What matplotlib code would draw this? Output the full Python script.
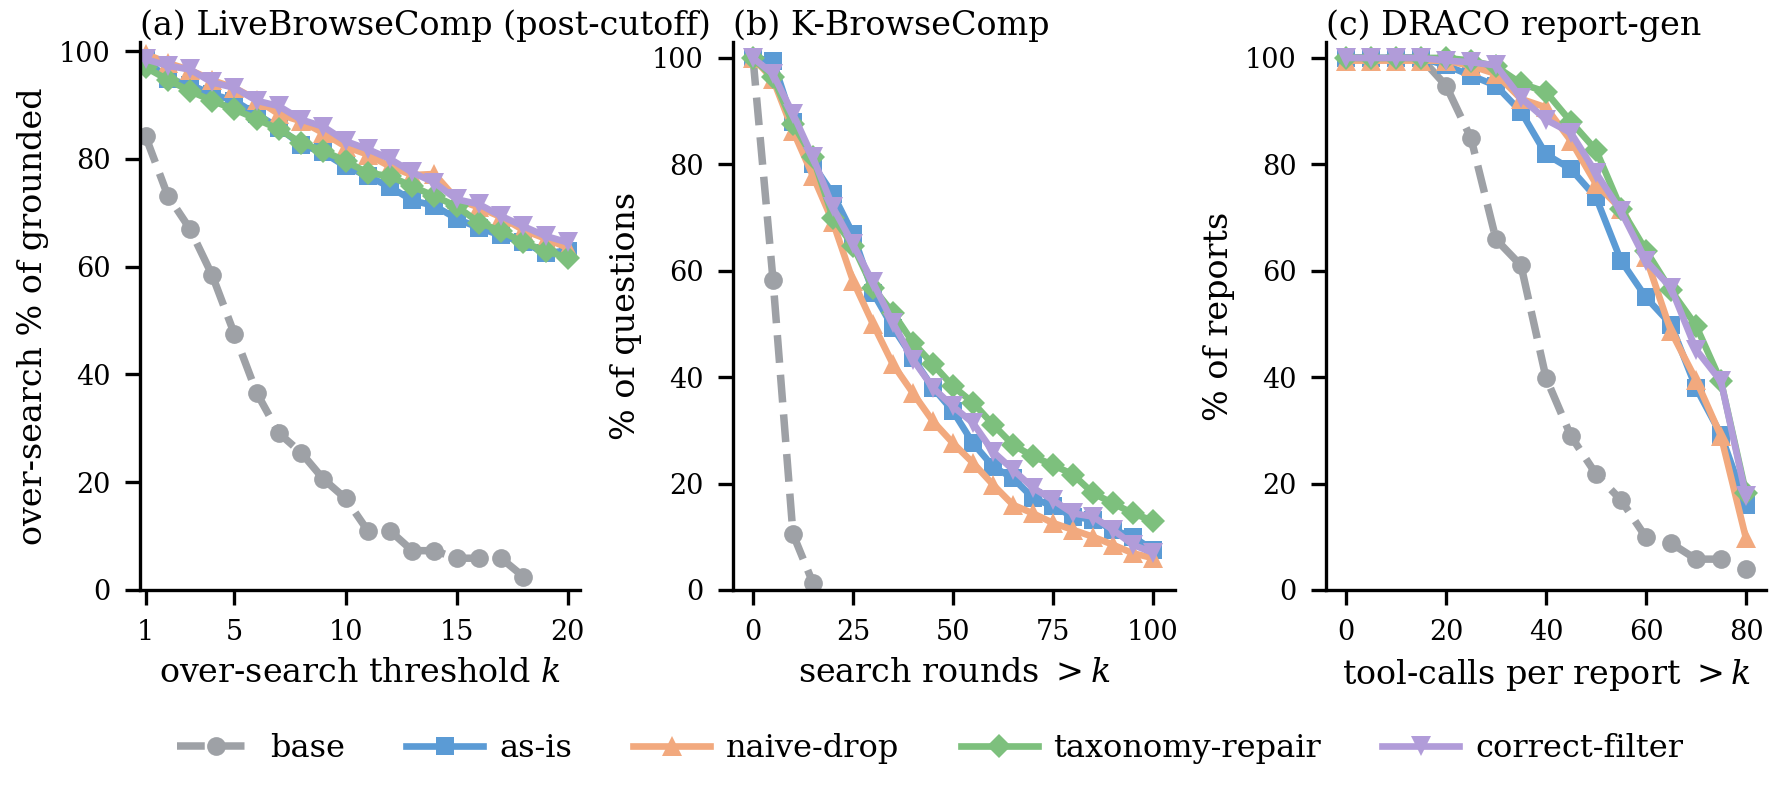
"""
plot.py -- survival-style curves for the over-search comparison, three benchmarks.
"""

import matplotlib

matplotlib.use("Agg")
import matplotlib.pyplot as plt

# Figure size in pixels, drawn at 300 dpi (paper figure)
FIG_W, FIG_H = 1772, 786
PLOT_DPI = 300

plt.rcParams["font.family"] = ["DejaVu Serif"]
plt.rcParams["mathtext.fontset"] = "dejavuserif"
plt.rcParams["font.size"] = 8

METHODS = ["base", "as-is", "naive-drop", "taxonomy-repair", "correct-filter"]

# (a) LiveBrowseComp, threshold k = 1..20 (base stops at 18)
k_a = list(range(1, 21))
base_a = [84.2, 73.2, 67.0, 58.4, 47.5, 36.6, 29.1, 25.5, 20.6, 17.0,
          11.0, 11.0, 7.3, 7.3, 5.9, 5.9, 5.9, 2.5]
asis_a = [98.5, 94.8, 93.8, 92.0, 90.8, 88.3, 85.8, 82.6, 81.2, 78.6,
          76.8, 74.8, 72.3, 71.3, 68.9, 67.2, 65.8, 64.5, 62.5, 63.0]
naive_a = [99.5, 97.8, 96.5, 94.6, 93.2, 91.0, 88.3, 87.0, 84.8, 82.3,
           80.8, 78.6, 77.0, 77.2, 72.5, 71.0, 69.2, 66.8, 65.2, 63.5]
taxo_a = [97.0, 94.7, 92.6, 90.8, 89.2, 87.4, 85.5, 83.0, 81.5, 79.6,
          77.4, 76.8, 74.9, 73.1, 71.2, 68.2, 66.6, 64.5, 62.9, 61.7]
corr_a = [98.5, 97.3, 96.6, 94.2, 93.2, 90.8, 89.8, 87.3, 86.0, 83.3,
          81.8, 80.0, 77.5, 75.6, 72.5, 71.6, 69.4, 67.5, 65.7, 64.5]

# (b) K-BrowseComp, search rounds 0..100 step 5 (base stops at 15)
k_b = list(range(0, 101, 5))
base_b = [100.0, 58.3, 10.5, 1.3]
asis_b = [100.0, 99.5, 87.9, 80.0, 74.4, 66.9, 55.9, 49.3, 43.6, 38.0, 33.6,
          27.6, 23.2, 21.0, 17.3, 15.7, 13.8, 13.2, 11.3, 10.0, 7.5]
naive_b = [100.0, 96.0, 86.3, 77.8, 69.1, 58.1, 50.0, 42.4, 37.0, 31.7, 27.6,
           23.9, 19.8, 16.0, 14.4, 12.6, 11.3, 10.0, 8.5, 6.9, 6.0]
taxo_b = [100.0, 96.4, 87.6, 81.3, 70.0, 64.7, 56.8, 52.1, 46.5, 42.4, 38.3,
          35.2, 31.1, 27.3, 25.1, 23.5, 21.7, 18.2, 16.3, 14.4, 13.0]
corr_b = [100.0, 97.0, 89.5, 81.3, 71.9, 65.0, 57.8, 50.2, 43.3, 38.0, 34.5,
          31.4, 26.0, 22.6, 19.2, 16.9, 14.4, 13.8, 11.3, 8.5, 7.0]

# (c) DRACO report-gen, tool-calls 0..80 step 5
k_c = list(range(0, 81, 5))
base_c = [100.0, 100.0, 100.0, 100.0, 94.8, 84.9, 65.9, 61.0, 39.9,
          28.9, 21.8, 16.9, 9.9, 8.8, 5.8, 5.8, 3.9]
asis_c = [100.0, 100.0, 100.0, 100.0, 98.6, 96.7, 94.8, 89.9, 81.9,
          79.1, 73.8, 61.9, 55.0, 49.9, 38.0, 29.2, 16.0]
naive_c = [99.5, 99.5, 99.5, 99.5, 99.5, 98.5, 97.0, 92.3, 90.7,
           84.4, 76.3, 71.6, 62.5, 48.6, 39.5, 28.9, 9.7]
taxo_c = [100.0, 100.0, 100.0, 100.0, 100.0, 99.5, 98.4, 95.2, 93.6,
          88.0, 82.7, 71.7, 63.8, 56.3, 49.7, 39.2, 18.2]
corr_c = [100.0, 100.0, 100.0, 100.0, 99.5, 99.2, 98.6, 92.5, 88.4,
          85.9, 78.4, 71.2, 61.9, 56.8, 45.2, 39.2, 17.6]

STYLE = {
    "base": dict(color="#9EA1A6", marker="o", ls="--", lw=1.8, ms=4.5),
    "as-is": dict(color="#5B9BD5", marker="s", ls="-", lw=1.6, ms=4.2),
    "naive-drop": dict(color="#F2A97E", marker="^", ls="-", lw=1.6, ms=4.9),
    "taxonomy-repair": dict(color="#7DC07D", marker="D", ls="-", lw=1.6, ms=4.0),
    "correct-filter": dict(color="#B19CD9", marker="v", ls="-", lw=1.6, ms=4.9),
}

# axes boxes in pixels: left, right (top/bottom shared)
AX_TOP, AX_BOTTOM = 42, 590
AX_LR = [(140, 580), (733, 1175), (1326, 1766)]


def draw_panel(ax, xs, series, title, xlabel, ylabel, xticks, xlim, ylim):
    for name, ys in zip(METHODS, series):
        st = STYLE[name]
        ax.plot(xs[:len(ys)], ys, color=st["color"], marker=st["marker"],
                linestyle=st["ls"], linewidth=st["lw"], markersize=st["ms"],
                markeredgewidth=0, label=name)
    ax.set_title(title, loc="left", pad=1.5, fontsize=8)
    ax.set_xlabel(xlabel, labelpad=2.5, fontsize=8)
    ax.set_ylabel(ylabel, labelpad=2.5, fontsize=8)
    ax.set_xticks(xticks)
    ax.set_yticks(range(0, 101, 20))
    ax.set_xlim(*xlim)
    ax.set_ylim(*ylim)
    for side in ("top", "right"):
        ax.spines[side].set_visible(False)
    ax.tick_params(labelsize=6.5)


def main():
    fig = plt.figure(figsize=(FIG_W / PLOT_DPI, FIG_H / PLOT_DPI), dpi=PLOT_DPI)
    axes = []
    for left, right in AX_LR:
        axes.append(fig.add_axes([left / FIG_W, 1 - AX_BOTTOM / FIG_H,
                                  (right - left) / FIG_W,
                                  (AX_BOTTOM - AX_TOP) / FIG_H]))

    draw_panel(axes[0], k_a, [base_a, asis_a, naive_a, taxo_a, corr_a],
               "(a) LiveBrowseComp (post-cutoff)", "over-search threshold $k$",
               "over-search % of grounded", [1, 5, 10, 15, 20],
               (0.75, 20.55), (0, 101.7))
    draw_panel(axes[1], k_b, [base_b, asis_b, naive_b, taxo_b, corr_b],
               "(b) K-BrowseComp", "search rounds $>k$", "% of questions",
               [0, 25, 50, 75, 100], (-5, 105.5), (0, 103))
    draw_panel(axes[2], k_c, [base_c, asis_c, naive_c, taxo_c, corr_c],
               "(c) DRACO report-gen", "tool-calls per report $>k$",
               "% of reports", [0, 20, 40, 60, 80], (-4, 84), (0, 103))

    handles, labels = axes[0].get_legend_handles_labels()
    fig.legend(handles, labels, loc="center", bbox_to_anchor=(0.525, 0.048),
               ncol=5, frameon=False, handlelength=2.4, handletextpad=0.5,
               columnspacing=1.9, fontsize=7.7)

    fig.savefig("out.png", dpi=PLOT_DPI)
    plt.close(fig)


if __name__ == "__main__":
    main()
